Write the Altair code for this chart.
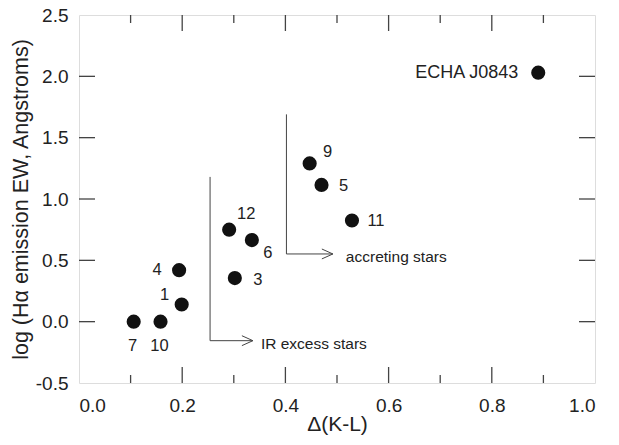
import altair as alt
import pandas as pd

# ---- data ----
star_names = ["7", "10", "1", "4", "12", "6", "3", "9", "5", "11", "ECHA J0843"]
delta_kl = [0.106, 0.158, 0.199, 0.194, 0.291, 0.335, 0.302, 0.447, 0.470, 0.529, 0.890]
log_ew = [0.0, 0.0, 0.14, 0.42, 0.75, 0.665, 0.355, 1.29, 1.115, 0.825, 2.03]

x_ticks = [0.0, 0.2, 0.4, 0.6, 0.8, 1.0]
x_major_inner = [0.2, 0.4, 0.6, 0.8]
x_minor = [0.1, 0.3, 0.5, 0.7, 0.9]
y_ticks = [-0.5, 0.0, 0.5, 1.0, 1.5, 2.0, 2.5]
y_inner = [0.0, 0.5, 1.0, 1.5, 2.0]

# annotation brackets: vertical line x, top y, bottom y, arrow tip x
ann_text = ["IR excess stars", "accreting stars"]
ann_x = [0.254, 0.402]
ann_top = [1.18, 1.69]
ann_bottom = [-0.155, 0.552]
ann_tip = [0.337, 0.492]

# label offsets (style) per star
label_dx = [-1, -1, -17, -22, 17, 16, 23, 18, 22, 24, -20]
label_dy = [24, 24, -9, 0, -16, 13, 2, -11, 1, 1, 0]
label_align = ["center"] * 10 + ["right"]

FONT = "Liberation Sans"
TXT = "#222222"
LINE = "#444444"

xs = alt.Scale(domain=[0, 1], nice=False, zero=False)
ys = alt.Scale(domain=[-0.5, 2.5], nice=False, zero=False)

stars = pd.DataFrame({"name": star_names, "x": delta_kl, "y": log_ew})

neg_expr = "datum.value < 0 ? '-' + format(-datum.value, '.1f') : format(datum.value, '.1f')"

base = alt.Chart(stars).encode(
    x=alt.X("x:Q", scale=xs,
            axis=alt.Axis(values=x_ticks, labelExpr=neg_expr, ticks=False, domain=False, grid=False,
                          labelFontSize=19, labelFont=FONT, labelColor=TXT, labelPadding=13,
                          title="Δ(K-L)", titleFontSize=21, titleFont=FONT, titleColor=TXT,
                          titleFontWeight="normal", titlePadding=-2)),
    y=alt.Y("y:Q", scale=ys,
            axis=alt.Axis(values=y_ticks, labelExpr=neg_expr, ticks=False, domain=False, grid=False,
                          labelFontSize=19, labelFont=FONT, labelColor=TXT, labelPadding=11,
                          title="log (Hα emission EW, Angstroms)", titleFontSize=21.5, titleFont=FONT,
                          titleColor=TXT, titleFontWeight="normal", titlePadding=3)),
)

points = base.mark_circle(size=200, color="#111111", opacity=1)

layers = [points]

for i, nm in enumerate(star_names):
    df = pd.DataFrame({"name": [nm], "x": [delta_kl[i]], "y": [log_ew[i]]})
    fs = 18 if nm.startswith("ECHA") else 16.5
    layers.append(
        alt.Chart(df).mark_text(dx=label_dx[i], dy=label_dy[i], align=label_align[i], baseline="middle",
                                font=FONT, fontSize=fs, color=TXT)
        .encode(x=alt.X("x:Q", scale=xs), y=alt.Y("y:Q", scale=ys), text="name:N")
    )

H = 368
W = 516
# ticks (inward)
bx_major = pd.DataFrame({"v": x_major_inner})
bx_minor = pd.DataFrame({"v": x_minor})
yin = pd.DataFrame({"v": y_inner})
for df, y0, y1 in [(bx_major, H, H - 16), (bx_minor, H, H - 8), (bx_major, 0, 16), (bx_minor, 0, 8)]:
    layers.append(alt.Chart(df).mark_rule(color=LINE, strokeWidth=1.3)
                  .encode(x=alt.X("v:Q", scale=xs), y=alt.value(y0), y2=alt.value(y1)))
for x0, x1 in [(0, 16), (W, W - 16)]:
    layers.append(alt.Chart(yin).mark_rule(color=LINE, strokeWidth=1.3)
                  .encode(y=alt.Y("v:Q", scale=ys), x=alt.value(x0), x2=alt.value(x1)))

# annotation brackets
ann = pd.DataFrame({"text": ann_text, "x": ann_x, "top": ann_top, "bottom": ann_bottom, "tip": ann_tip})
layers.append(alt.Chart(ann).mark_rule(color=LINE, strokeWidth=1)
              .encode(x=alt.X("x:Q", scale=xs), y=alt.Y("top:Q", scale=ys), y2="bottom:Q"))
layers.append(alt.Chart(ann).mark_rule(color=LINE, strokeWidth=1)
              .encode(x=alt.X("x:Q", scale=xs), x2="tip:Q", y=alt.Y("bottom:Q", scale=ys)))
layers.append(alt.Chart(ann).mark_point(shape="M -1 -0.45 L 0 0 L -1 0.45", filled=False, size=484,
                                        color=LINE, strokeWidth=1, opacity=1)
              .encode(x=alt.X("tip:Q", scale=xs), y=alt.Y("bottom:Q", scale=ys)))
for i, t in enumerate(ann_text):
    df = ann.iloc[[i]]
    layers.append(alt.Chart(df).mark_text(align="left", baseline="middle", dx=8 if i == 0 else 13, dy=3,
                                          font=FONT, fontSize=15.5, color=TXT)
                  .encode(x=alt.X("tip:Q", scale=xs), y=alt.Y("bottom:Q", scale=ys), text="text:N"))

chart = alt.layer(*layers).properties(
    width=W, height=H,
    autosize=alt.AutoSizeParams(type="none"),
    padding={"left": 71, "top": 7, "right": 14, "bottom": 53},
).configure_view(stroke=LINE, strokeWidth=2).configure(background="white")

chart.save("out.html", embed_options={"renderer": "svg", "actions": False})
